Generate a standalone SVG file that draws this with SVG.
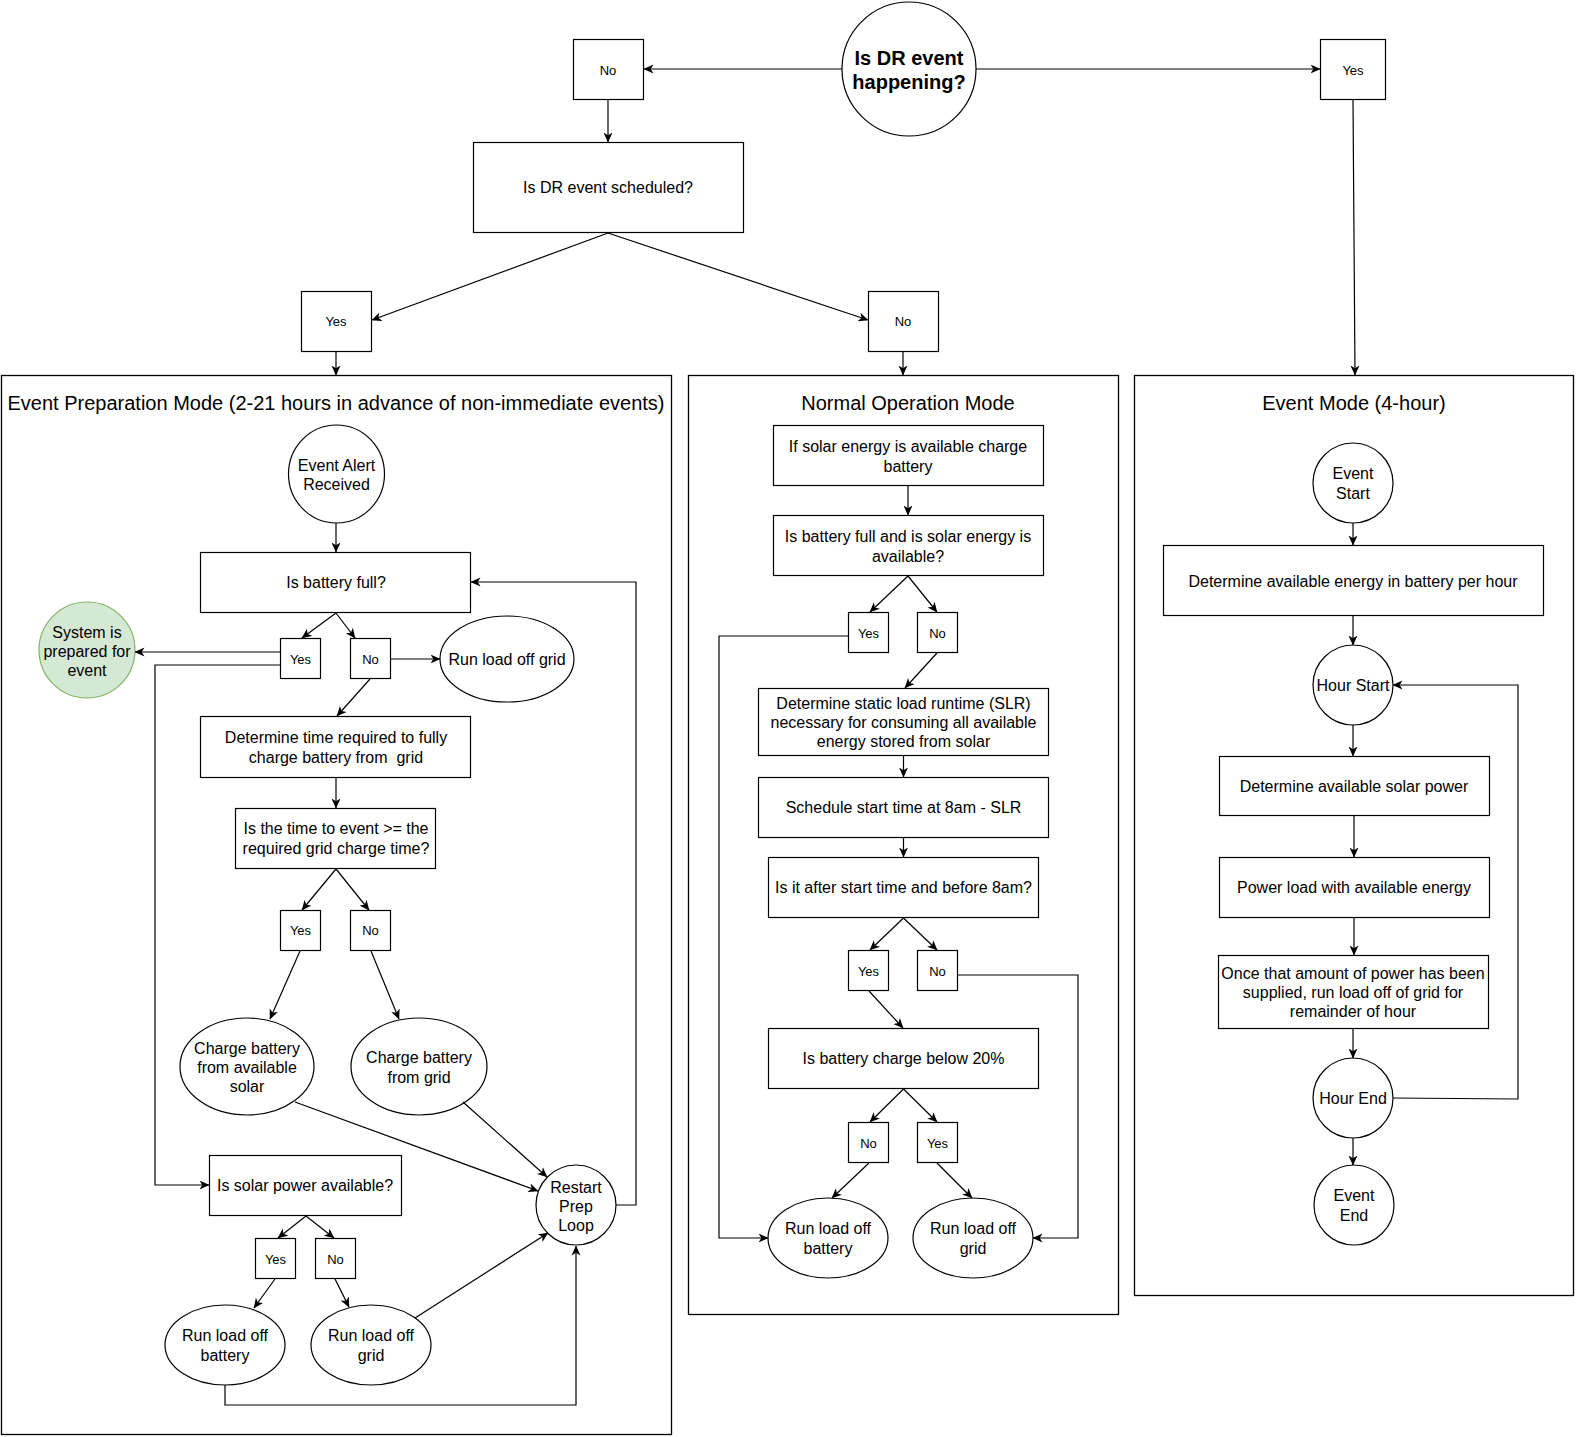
<svg xmlns="http://www.w3.org/2000/svg" width="1576" height="1437" viewBox="0 0 1576 1437">
<style>
.n{fill:#fff;stroke:#000;stroke-width:1.2}
.g{fill:#d5e8d4;stroke:#82b366;stroke-width:1.2}
.c{fill:#fff;stroke:#000;stroke-width:1.3}
text{font-family:"Liberation Sans",Arial,sans-serif;fill:#000;text-anchor:middle;dominant-baseline:central}
.t{font-size:16px}
.s{font-size:13px}
.h{font-size:20px}
.b{font-size:20px;font-weight:bold}
.e{fill:none;stroke:#000;stroke-width:1.2;marker-end:url(#a)}
</style>
<defs>
<marker id="a" viewBox="0 0 10 10" refX="9.5" refY="5" markerWidth="10" markerHeight="10" markerUnits="userSpaceOnUse" orient="auto">
<path d="M0,0.5 L10,5 L0,9.5 L2.8,5 z" fill="#000"/>
</marker>
</defs>
<rect width="1576" height="1437" fill="#fff"/>

<g id="containers">
<g id="prep-mode"><rect class="c" x="1.5" y="375.5" width="670" height="1059"/><text class="h" x="336" y="403">Event Preparation Mode (2-21 hours in advance of non-immediate events)</text></g>
<g id="normal-mode"><rect class="c" x="688.5" y="375.5" width="430" height="939"/><text class="h" x="908" y="403">Normal Operation Mode</text></g>
<g id="event-mode"><rect class="c" x="1134.5" y="375.5" width="439" height="920"/><text class="h" x="1354" y="403">Event Mode (4-hour)</text></g>
</g>

<g id="top">
<g id="dr-happening"><circle class="n" cx="909" cy="69" r="67"/><text class="b" x="909" y="58">Is DR event</text><text class="b" x="909" y="82">happening?</text></g>
<g id="top-no"><rect class="n" x="573.5" y="39.5" width="70" height="60"/><text class="s" x="608" y="70">No</text></g>
<g id="top-yes"><rect class="n" x="1320.5" y="39.5" width="65" height="60"/><text class="s" x="1353" y="70">Yes</text></g>
<g id="dr-scheduled"><rect class="n" x="473.5" y="142.5" width="270" height="90"/><text class="t" x="608" y="187">Is DR event scheduled?</text></g>
<g id="sched-yes"><rect class="n" x="301.5" y="291.5" width="70" height="60"/><text class="s" x="336" y="321">Yes</text></g>
<g id="sched-no"><rect class="n" x="868.5" y="291.5" width="70" height="60"/><text class="s" x="903" y="321">No</text></g>
</g>

<g id="prep-nodes">
<g id="alert"><ellipse class="n" cx="336.5" cy="474" rx="48" ry="49"/><text class="t" x="336.5" y="465">Event Alert</text><text class="t" x="336.5" y="484">Received</text></g>
<g id="batt-full"><rect class="n" x="200.5" y="552.5" width="270" height="60"/><text class="t" x="336" y="582">Is battery full?</text></g>
<g id="bf-yes"><rect class="n" x="280.5" y="638.5" width="40" height="40"/><text class="s" x="300.5" y="659">Yes</text></g>
<g id="bf-no"><rect class="n" x="350.5" y="638.5" width="40" height="40"/><text class="s" x="370.5" y="659">No</text></g>
<g id="prepared"><ellipse class="g" cx="87" cy="650" rx="48" ry="48"/><text class="t" x="87" y="632">System is</text><text class="t" x="87" y="651">prepared for</text><text class="t" x="87" y="670">event</text></g>
<g id="run-grid-1"><ellipse class="n" cx="507" cy="659" rx="67" ry="43"/><text class="t" x="507" y="659">Run load off grid</text></g>
<g id="det-time"><rect class="n" x="200.5" y="716.5" width="270" height="61"/><text class="t" x="336" y="737">Determine time required to fully</text><text class="t" x="336" y="757" style="white-space:pre">charge battery from  grid</text></g>
<g id="time-q"><rect class="n" x="235.5" y="808.5" width="200" height="60"/><text class="t" x="336" y="828">Is the time to event &gt;= the</text><text class="t" x="336" y="848">required grid charge time?</text></g>
<g id="tq-yes"><rect class="n" x="280.5" y="910.5" width="40" height="40"/><text class="s" x="300.5" y="930">Yes</text></g>
<g id="tq-no"><rect class="n" x="350.5" y="910.5" width="40" height="40"/><text class="s" x="370.5" y="930">No</text></g>
<g id="charge-solar"><ellipse class="n" cx="247" cy="1066.5" rx="67" ry="48.5"/><text class="t" x="247" y="1048">Charge battery</text><text class="t" x="247" y="1067">from available</text><text class="t" x="247" y="1086">solar</text></g>
<g id="charge-grid"><ellipse class="n" cx="419" cy="1066.5" rx="68" ry="48.5"/><text class="t" x="419" y="1057">Charge battery</text><text class="t" x="419" y="1077">from grid</text></g>
<g id="solar-q"><rect class="n" x="209.5" y="1155.5" width="192" height="60"/><text class="t" x="305" y="1185">Is solar power available?</text></g>
<g id="sq-yes"><rect class="n" x="255.5" y="1238.5" width="40" height="40"/><text class="s" x="275.5" y="1259">Yes</text></g>
<g id="sq-no"><rect class="n" x="315.5" y="1238.5" width="40" height="40"/><text class="s" x="335.5" y="1259">No</text></g>
<g id="run-batt-1"><ellipse class="n" cx="225" cy="1345" rx="60" ry="40"/><text class="t" x="225" y="1335">Run load off</text><text class="t" x="225" y="1355">battery</text></g>
<g id="run-grid-2"><ellipse class="n" cx="371" cy="1345" rx="60" ry="40"/><text class="t" x="371" y="1335">Run load off</text><text class="t" x="371" y="1355">grid</text></g>
<g id="restart"><ellipse class="n" cx="576" cy="1205" rx="40" ry="40"/><text class="t" x="576" y="1187">Restart</text><text class="t" x="576" y="1206">Prep</text><text class="t" x="576" y="1225">Loop</text></g>
</g>

<g id="normal-nodes">
<g id="solar-charge"><rect class="n" x="773.5" y="425.5" width="270" height="60"/><text class="t" x="908" y="446">If solar energy is available charge</text><text class="t" x="908" y="466">battery</text></g>
<g id="full-solar"><rect class="n" x="773.5" y="515.5" width="270" height="60"/><text class="t" x="908" y="536">Is battery full and is solar energy is</text><text class="t" x="908" y="556">available?</text></g>
<g id="fs-yes"><rect class="n" x="848.5" y="612.5" width="40" height="40"/><text class="s" x="868.5" y="633">Yes</text></g>
<g id="fs-no"><rect class="n" x="917.5" y="612.5" width="40" height="40"/><text class="s" x="937.5" y="633">No</text></g>
<g id="slr"><rect class="n" x="758.5" y="688.5" width="290" height="67"/><text class="t" x="903.5" y="703">Determine static load runtime (SLR)</text><text class="t" x="903.5" y="722.5">necessary for consuming all available</text><text class="t" x="903.5" y="741.5">energy stored from solar</text></g>
<g id="schedule"><rect class="n" x="758.5" y="777.5" width="290" height="60"/><text class="t" x="903.5" y="807">Schedule start time at 8am - SLR</text></g>
<g id="after-start"><rect class="n" x="768.5" y="857.5" width="270" height="60"/><text class="t" x="903.5" y="887">Is it after start time and before 8am?</text></g>
<g id="as-yes"><rect class="n" x="848.5" y="950.5" width="40" height="40"/><text class="s" x="868.5" y="971">Yes</text></g>
<g id="as-no"><rect class="n" x="917.5" y="950.5" width="40" height="40"/><text class="s" x="937.5" y="971">No</text></g>
<g id="below20"><rect class="n" x="768.5" y="1028.5" width="270" height="60"/><text class="t" x="903.5" y="1058">Is battery charge below 20%</text></g>
<g id="b20-no"><rect class="n" x="848.5" y="1122.5" width="40" height="40"/><text class="s" x="868.5" y="1143">No</text></g>
<g id="b20-yes"><rect class="n" x="917.5" y="1122.5" width="40" height="40"/><text class="s" x="937.5" y="1143">Yes</text></g>
<g id="run-batt-2"><ellipse class="n" cx="828" cy="1238" rx="60" ry="40"/><text class="t" x="828" y="1228">Run load off</text><text class="t" x="828" y="1248">battery</text></g>
<g id="run-grid-3"><ellipse class="n" cx="973" cy="1238" rx="60" ry="40"/><text class="t" x="973" y="1228">Run load off</text><text class="t" x="973" y="1248">grid</text></g>
</g>

<g id="event-nodes">
<g id="event-start"><circle class="n" cx="1353" cy="483" r="40"/><text class="t" x="1353" y="473">Event</text><text class="t" x="1353" y="493">Start</text></g>
<g id="energy-hour"><rect class="n" x="1163.5" y="545.5" width="380" height="70"/><text class="t" x="1353" y="581">Determine available energy in battery per hour</text></g>
<g id="hour-start"><circle class="n" cx="1353" cy="685" r="40"/><text class="t" x="1353" y="685">Hour Start</text></g>
<g id="solar-power"><rect class="n" x="1219.5" y="756.5" width="270" height="59"/><text class="t" x="1354" y="786">Determine available solar power</text></g>
<g id="power-load"><rect class="n" x="1219.5" y="857.5" width="270" height="60"/><text class="t" x="1354" y="887">Power load with available energy</text></g>
<g id="once"><rect class="n" x="1218.5" y="955.5" width="270" height="73"/><text class="t" x="1353" y="973">Once that amount of power has been</text><text class="t" x="1353" y="992">supplied, run load off of grid for</text><text class="t" x="1353" y="1011">remainder of hour</text></g>
<g id="hour-end"><circle class="n" cx="1353" cy="1098" r="40"/><text class="t" x="1353" y="1098">Hour End</text></g>
<g id="event-end"><circle class="n" cx="1354" cy="1205" r="40"/><text class="t" x="1354" y="1195">Event</text><text class="t" x="1354" y="1215">End</text></g>
</g>

<g id="connectors">
<path class="e" d="M842,69 L644,69"/>
<path class="e" d="M976,69 L1320,69"/>
<path class="e" d="M608,100 L608,142"/>
<path class="e" d="M608,233 L372,320"/>
<path class="e" d="M608,233 L868,320"/>
<path class="e" d="M336,352 L336,375"/>
<path class="e" d="M903,352 L903,375"/>
<path class="e" d="M1353,100 L1355,375"/>

<path class="e" d="M336,523 L336,552"/>
<path class="e" d="M336,613 L302,638"/>
<path class="e" d="M336,613 L355,638"/>
<path class="e" d="M280,652 L135,652"/>
<path class="e" d="M280,665 L155,665 L155,1185 L209,1185"/>
<path class="e" d="M391,659 L440,659"/>
<path class="e" d="M370,679 L337,716"/>
<path class="e" d="M336,778 L336,808"/>
<path class="e" d="M336,869 L302,910"/>
<path class="e" d="M336,869 L369,910"/>
<path class="e" d="M300,951 L270,1019"/>
<path class="e" d="M371,951 L399,1019"/>
<path class="e" d="M295,1102 L538,1191"/>
<path class="e" d="M463,1102 L547,1177"/>
<path class="e" d="M616,1205 L636,1205 L636,582 L471,582"/>
<path class="e" d="M306,1216 L278,1238"/>
<path class="e" d="M306,1216 L334,1238"/>
<path class="e" d="M275,1279 L254,1308"/>
<path class="e" d="M335,1279 L349,1307"/>
<path class="e" d="M415,1318 L548,1233"/>
<path class="e" d="M225,1385 L225,1405 L576,1405 L576,1246"/>

<path class="e" d="M908,486 L908,515"/>
<path class="e" d="M908,576 L870,612"/>
<path class="e" d="M908,576 L937,612"/>
<path class="e" d="M848,636 L719,636 L719,1238 L768,1238"/>
<path class="e" d="M937,653 L905,688"/>
<path class="e" d="M903.5,756 L903.5,777"/>
<path class="e" d="M903.5,838 L903.5,857"/>
<path class="e" d="M903.5,918 L870,950"/>
<path class="e" d="M903.5,918 L937,950"/>
<path class="e" d="M958,975 L1078,975 L1078,1238 L1033,1238"/>
<path class="e" d="M869,991 L903,1028"/>
<path class="e" d="M903.5,1089 L870,1122"/>
<path class="e" d="M903.5,1089 L937,1122"/>
<path class="e" d="M869,1163 L832,1198"/>
<path class="e" d="M937,1163 L972,1198"/>

<path class="e" d="M1353,523 L1353,545"/>
<path class="e" d="M1353,616 L1353,645"/>
<path class="e" d="M1353,725 L1353,756"/>
<path class="e" d="M1354,816 L1354,857"/>
<path class="e" d="M1354,918 L1354,955"/>
<path class="e" d="M1353,1029 L1353,1058"/>
<path class="e" d="M1353,1138 L1353,1165"/>
<path class="e" d="M1393,1098 L1518,1099 L1518,685 L1393,685"/>
</g>
</svg>
